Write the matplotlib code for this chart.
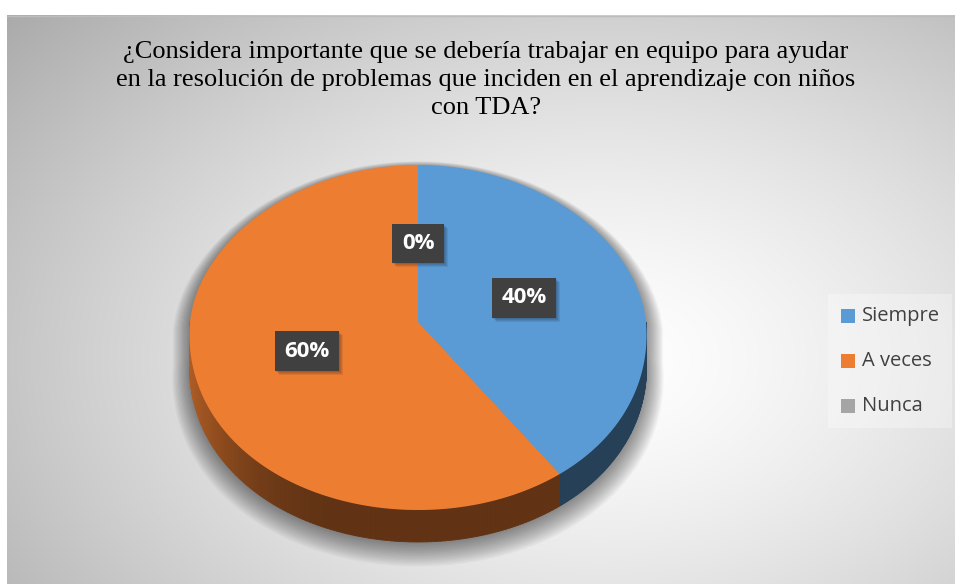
import numpy as np
import matplotlib.pyplot as plt
from matplotlib.patches import Polygon, Rectangle

categorias = ['Siempre', 'A veces', 'Nunca']
porcentajes = [40, 60, 0]
colores = ['#5B9BD5', '#ED7D31', '#A5A5A5']
titulo = ('¿Considera importante que se debería trabajar en equipo para ayudar\n'
          'en la resolución de problemas que inciden en el aprendizaje con niños\n'
          'con TDA?')

W, H = 955, 584
fig = plt.figure(figsize=(9.55, 5.84), dpi=100)
ax = fig.add_axes([0, 0, 1, 1])
ax.set_xlim(0, W)
ax.set_ylim(H, 0)

# fondo con degradado radial
x0, y0 = 7, 15
yy, xx = np.mgrid[y0:H, x0:W]
d = np.sqrt(((xx - 600) / 640.) ** 2 + ((yy - 360) / 430.) ** 2)
v = np.clip(1.0 - 0.25 * d ** 1.4, 0, 1)
ax.imshow(np.dstack([v, v, v]), extent=(x0, W, H, y0), aspect='auto', zorder=0)
ax.plot([x0, W], [y0 + 0.5, y0 + 0.5], color='#bdbdbd', lw=1, zorder=1)

# geometria del pastel 3D
cx, cy = 418, 322
rx, ry_top, ry_bot = 228, 157, 188
prof = 32


def punto(t):
    c = np.cos(t)
    return cx + rx * np.sin(t) * (1 - 0.07 * c), cy - np.where(c > 0, ry_top, ry_bot) * c


# sombra
t = np.linspace(-np.pi / 2, np.pi / 2, 100)
xs, ys = punto(t)
t2 = np.linspace(np.pi / 2, 3 * np.pi / 2, 100)
xb, yb = punto(t2)
hx = np.concatenate([xs, xb])
hy = np.concatenate([ys, yb + prof])
for k in range(16):
    s = 1 + 0.005 * k
    ax.add_patch(Polygon(np.column_stack([cx + (hx - cx) * s, cy + (hy - cy) * s + 2 + 0.4 * k]),
                         closed=True, fc='black', ec='none', alpha=0.03, zorder=2))

fracs = np.array(porcentajes) / sum(porcentajes)
limites = np.concatenate([[0], np.cumsum(fracs)]) * 2 * np.pi

# caras laterales
for i, col in enumerate(colores):
    a, b = limites[i], limites[i + 1]
    a2, b2 = max(a, np.pi / 2), min(b, 3 * np.pi / 2)
    if b2 <= a2:
        continue
    rgb = np.array(plt.matplotlib.colors.to_rgb(col))
    ts = np.linspace(a2, b2, 120)
    for j in range(len(ts) - 1):
        xa, ya = punto(ts[j])
        xb2, yb2 = punto(ts[j + 1])
        u = np.sin((ts[j] + ts[j + 1]) / 2)
        k = 0.41 + 0.34 * np.clip((-u - 0.35) / 0.65, 0, 1) ** 2
        ax.add_patch(Polygon([[xa, ya], [xb2, yb2], [xb2, yb2 + prof], [xa, ya + prof]],
                             closed=True, fc=rgb * k, ec=rgb * k, lw=0.6, zorder=3))

# caras superiores
for i, col in enumerate(colores):
    a, b = limites[i], limites[i + 1]
    if b - a <= 0:
        continue
    ts = np.linspace(a, b, 200)
    px, py = punto(ts)
    ax.add_patch(Polygon(np.column_stack([np.r_[cx, px], np.r_[cy, py]]),
                         closed=True, fc=col, ec='none', zorder=4))

# etiquetas de datos
etiquetas = []
for i, p in enumerate(porcentajes):
    m = (limites[i] + limites[i + 1]) / 2
    ex, ey = punto(m)
    lx, ly = cx + 0.5 * (ex - cx), cy + 0.5 * (ey - cy)
    etiquetas.append(ax.text(lx, ly, f'{p}%', ha='center', va='center', fontsize=16,
                             fontweight='bold', family='Open Sans', color='white', zorder=7,
                             bbox=dict(boxstyle='square,pad=0.42', fc='#404040', ec='none')))

# titulo
ax.text(486, 80, titulo, ha='center', va='center', family='Liberation Serif',
        fontsize=19, linespacing=1.36, color='black', zorder=6)

# leyenda
ax.add_patch(Rectangle((828, 294), 124, 134, fc='white', ec='none', alpha=0.3, zorder=5))
for j, (cat, col) in enumerate(zip(categorias, colores)):
    y = 316 + 45 * j
    ax.add_patch(Rectangle((841, y - 7), 14, 14, fc=col, ec='none', zorder=6))
    ax.text(862, y, cat, ha='left', va='center', family='Open Sans', fontsize=14.5,
            color='#404040', zorder=6)

# sombra de las cajas de etiquetas
fig.canvas.draw()
inv = ax.transData.inverted()
for et in etiquetas:
    bb = et.get_bbox_patch().get_window_extent()
    (ax0, ay0), (ax1, ay1) = inv.transform([[bb.x0, bb.y0], [bb.x1, bb.y1]])
    for k in range(4):
        ax.add_patch(Rectangle((min(ax0, ax1) + 1 + k, min(ay0, ay1) + 1 + k),
                               abs(ax1 - ax0), abs(ay1 - ay0),
                               fc='black', ec='none', alpha=0.08, zorder=5))

ax.set_xlim(0, W)
ax.set_ylim(H, 0)
ax.axis('off')
fig.savefig('out.png', dpi=100, facecolor='white')
